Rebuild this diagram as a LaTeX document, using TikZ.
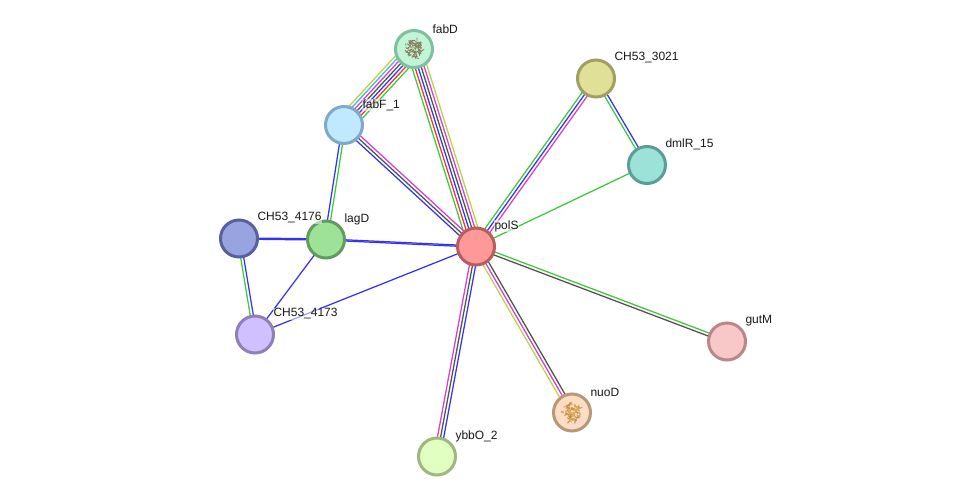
\documentclass[tikz,border=0pt]{standalone}
\usepackage{fontspec}
\setmainfont{Liberation Sans}
\usetikzlibrary{calc,backgrounds}

\definecolor{cGreen}{HTML}{3CC93C}
\definecolor{cBlue}{HTML}{3434F0}
\definecolor{cRed}{HTML}{F03434}
\definecolor{cMag}{HTML}{D63CD6}
\definecolor{cGray}{HTML}{505050}
\definecolor{cYel}{HTML}{C0D040}
\definecolor{cCyan}{HTML}{40B8E0}

% fill and rim of each protein disc
\definecolor{fFabD}{HTML}{C0F5D8}\definecolor{rFabD}{HTML}{80BFA0}
\definecolor{fFabF}{HTML}{C0E8FF}\definecolor{rFabF}{HTML}{80A8C8}
\definecolor{fPolS}{HTML}{FF9999}\definecolor{rPolS}{HTML}{B85C5C}
\definecolor{fC3021}{HTML}{E0E098}\definecolor{rC3021}{HTML}{A0A060}
\definecolor{fDmlR}{HTML}{9CE2D8}\definecolor{rDmlR}{HTML}{5A9E98}
\definecolor{fGutM}{HTML}{F8C8C8}\definecolor{rGutM}{HTML}{B88888}
\definecolor{fNuoD}{HTML}{FDDCC4}\definecolor{rNuoD}{HTML}{B89878}
\definecolor{fYbbO}{HTML}{E0FFC0}\definecolor{rYbbO}{HTML}{A0B880}
\definecolor{fC4173}{HTML}{D0C0FF}\definecolor{rC4173}{HTML}{9080B8}
\definecolor{fC4176}{HTML}{98A4E0}\definecolor{rC4176}{HTML}{5860A0}
\definecolor{fLagD}{HTML}{9EE298}\definecolor{rLagD}{HTML}{609C60}

% strokes of the structure thumbnails
\definecolor{tA}{HTML}{A07850}\definecolor{tB}{HTML}{708060}
\definecolor{tC}{HTML}{D8A860}\definecolor{tD}{HTML}{C09040}

\tikzset{
  protein/.style={circle,draw=r#1,fill=f#1,line width=3pt,
    minimum size=37pt,inner sep=0pt,outer sep=0pt},
  tag/.style={anchor=west,font=\fontsize{12}{14}\selectfont,text=black!90,
    fill=white,fill opacity=.55,text opacity=1,inner sep=0.3pt},
  evidence/.style={line width=1.25pt}
}

% parallel evidence lines between two named nodes; colours run left to right
% when looking from the first node towards the second
\newcommand{\bundle}[4]{%
  \foreach \c [count=\i] in {#4}{\global\let\nbundle\i}%
  \foreach \c [count=\i] in {#4}{%
    \pgfmathsetmacro{\off}{(\i-(\nbundle+1)/2)*#3}%
    \draw[evidence,draw=\c] ($(#1)!-\off pt!90:(#2)$) -- ($(#2)!\off pt!90:(#1)$);
  }%
}

% small tangle of strokes standing for a structure thumbnail
\newcommand{\tangle}[6]{%
  \pgfmathsetseed{#4}%
  \foreach \k in {1,...,#5}{%
    \pgfmathsetmacro{\ang}{rnd*360}%
    \pgfmathsetmacro{\rad}{9*sqrt(rnd)}%
    \pgfmathsetmacro{\dx}{(rnd-.5)*6}%
    \pgfmathsetmacro{\dy}{(rnd-.5)*6}%
    \pgfmathsetmacro{\pick}{rnd}%
    \ifdim\pick pt<.5pt\def\shade{#2}\else\def\shade{#3}\fi
    \draw[draw=\shade,line width=#6,line cap=round]
      ($(#1)+(\ang:\rad pt)$) -- ++(\dx pt,\dy pt);
  }%
}

\begin{document}
\begin{tikzpicture}[x=1pt,y=-1pt]
\useasboundingbox (0,0) rectangle (975,502);

\node[protein=FabD] (fabD) at (414,49) {};
\node[protein=FabF] (fabF) at (344,125) {};
\node[protein=PolS] (polS) at (476,246.5) {};
\node[protein=C3021] (c3021) at (596,78.5) {};
\node[protein=DmlR] (dmlR) at (647,165) {};
\node[protein=GutM] (gutM) at (727,341.5) {};
\node[protein=NuoD] (nuoD) at (572,412.5) {};
\node[protein=YbbO] (ybbO) at (437,456.5) {};
\node[protein=C4173] (c4173) at (255,334.5) {};
\node[protein=C4176] (c4176) at (239,238.5) {};
\node[protein=LagD] (lagD) at (326,239.5) {};

\begin{scope}[on background layer]
  \fill[white] (0,0) rectangle (975,502);
  \bundle{fabD}{fabF}{3}{cGreen,cRed,cBlue,cGray,cMag,cCyan,cYel}
  \bundle{fabD}{polS}{3}{cYel,cMag,cGray,cBlue,cRed,cGreen}
  \bundle{fabF}{polS}{3.1}{cMag,cGray,cBlue}
  \bundle{fabF}{lagD}{3.1}{cGreen,cBlue}
  \bundle{c4176}{lagD}{1.2}{cBlue,cBlue}
  \bundle{lagD}{polS}{1.2}{cBlue,cBlue}
  \bundle{c4176}{c4173}{3.1}{cBlue,cGreen}
  \bundle{lagD}{c4173}{3}{cBlue}
  \bundle{polS}{c4173}{3}{cBlue}
  \bundle{polS}{c3021}{3.1}{cGreen,cBlue,cMag}
  \bundle{c3021}{dmlR}{3.1}{cBlue,cGreen}
  \bundle{polS}{dmlR}{3}{cGreen}
  \bundle{polS}{gutM}{3.1}{cGreen,cGray}
  \bundle{polS}{nuoD}{3.1}{cGray,cMag,cYel}
  \bundle{polS}{ybbO}{3.1}{cBlue,cGray,cMag}
\end{scope}

\tangle{fabD}{tA}{tB}{12}{90}{.8pt}
\tangle{nuoD}{tC}{tD}{7}{90}{1pt}

\node[tag] (lFabD) at (432,29) {fabD};
\node[tag] (lFabF) at (362,105) {fabF\_1};
\node[tag] (lPolS) at (494,226) {polS};
\node[tag] (l3021) at (614,58) {CH53\_3021};
\node[tag] (lDmlR) at (665,144) {dmlR\_15};
\node[tag] (lGutM) at (745,321) {gutM};
\node[tag] (lNuoD) at (590,392) {nuoD};
\node[tag] (lYbbO) at (455,436) {ybbO\_2};
\node[tag] (l4173) at (273,314) {CH53\_4173};
\node[tag] (l4176) at (257,218) {CH53\_4176};
\node[tag] (lLagD) at (344,219) {lagD};
\end{tikzpicture}
\end{document}
